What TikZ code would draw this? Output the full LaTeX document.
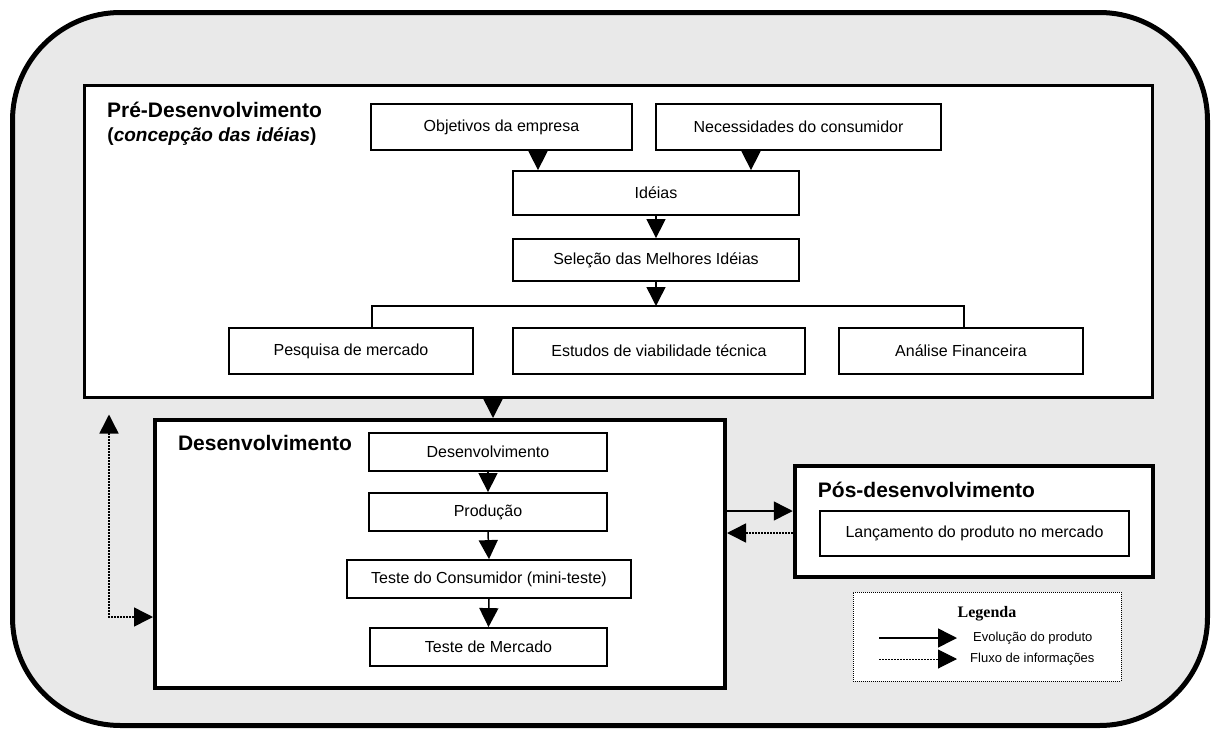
\documentclass[tikz,border=0pt]{standalone}
\usepackage{fontspec}
\setmainfont{Liberation Sans}
\newfontfamily\timesf{Liberation Serif}
\usetikzlibrary{arrows.meta,calc}
\definecolor{bggray}{RGB}{233,233,233}
\begin{document}
\begin{tikzpicture}[x=1pt,y=-1pt,
  ibox/.style={draw, fill=white, line width=1.8pt, inner sep=0pt, font=\fontsize{16}{19}\selectfont},
  cbox/.style={draw, fill=white, inner sep=0pt},
  head/.style={font=\fontsize{21}{25}\selectfont\bfseries, anchor=base, inner sep=0pt},
  arr/.style={line width=1.5pt, -{Triangle[length=19pt,width=19pt]}},
  info/.style={line width=1.5pt, dash pattern=on 1.5pt off 1.5pt, -{Triangle[length=19pt,width=19pt]}},
  conn/.style={line width=1.5pt}
]
\useasboundingbox (0,0) rectangle (1211,731);
% outer rounded frame
\draw[line width=5pt, fill=bggray, rounded corners=108pt] (12.5,12.5) rectangle (1207.5,725.5);

% containers
\node[cbox, line width=3pt, minimum width=1068pt, minimum height=312pt] (pre) at (618,241) {};
\node[cbox, line width=4pt, minimum width=570pt, minimum height=268pt] (dev) at (440,554) {};
\node[cbox, line width=4.5pt, minimum width=358pt, minimum height=111pt] (pos) at (974,521.5) {};
\node[cbox, line width=1pt, dash pattern=on 1pt off 1pt, minimum width=268pt, minimum height=89pt] (leg) at (987,636.5) {};

% headings
\node[head] (preT) at (214.5,117) {Pré-Desenvolvimento};
\node[font=\fontsize{19}{23}\selectfont\bfseries, anchor=base, inner sep=0pt] (preS) at (212,141) {(\textit{concepção das idéias})};
\node[head] (devT) at (265,450) {Desenvolvimento};
\node[head] (posT) at (926.5,497) {Pós-desenvolvimento};

% pre-development boxes
\node[ibox, minimum width=261pt, minimum height=46pt] (obj) at (501.5,127) {Objetivos da empresa};
\node[ibox, minimum width=285pt, minimum height=46pt] (nec) at (798.5,127) {Necessidades do consumidor};
\node[ibox, minimum width=286pt, minimum height=44pt] (ide) at (656,193) {Idéias};
\node[ibox, minimum width=286pt, minimum height=42pt] (sel) at (656,260) {Seleção das Melhores Idéias};
\node[ibox, minimum width=244pt, minimum height=46pt] (pes) at (351,351) {Pesquisa de mercado};
\node[ibox, minimum width=292pt, minimum height=46pt] (est) at (659,351) {Estudos de viabilidade técnica};
\node[ibox, minimum width=244pt, minimum height=46pt] (ana) at (961,351) {Análise Financeira};

% development boxes
\node[ibox, minimum width=238pt, minimum height=38pt] (des) at (488,452) {Desenvolvimento};
\node[ibox, minimum width=238pt, minimum height=38pt] (pro) at (488,512) {Produção};
\node[ibox, minimum width=284pt, minimum height=38pt] (tcon) at (489,579) {Teste do Consumidor (mini-teste)};
\node[ibox, minimum width=237pt, minimum height=38pt] (tmer) at (488.5,647) {Teste de Mercado};

% post-development box
\node[ibox, minimum width=309pt, minimum height=45pt] (lan) at (974.5,533.5) {Lançamento do produto no mercado};

% legend
\node[font=\timesf\fontsize{16}{19}\selectfont\bfseries, anchor=base, inner sep=0pt] (legT) at (987,617) {Legenda};
\node[font=\fontsize{13}{16}\selectfont, anchor=west, inner sep=0pt] (legE) at (973,638) {Evolução do produto};
\node[font=\fontsize{13}{16}\selectfont, anchor=west, inner sep=0pt] (legF) at (970,659) {Fluxo de informações};
\coordinate (l1a) at (879,638);
\coordinate (l1b) at (957,638);
\coordinate (l2a) at (879,659);
\coordinate (l2b) at (957,659);
\draw[arr] (l1a) -- (l1b);
\draw[info, line width=1pt] (l2a) -- (l2b);

% connector helper coordinates
\coordinate (xa) at (538,0);
\coordinate (xb) at (751,0);
\coordinate (bl) at (372,306);
\coordinate (br) at (964,306);
\coordinate (xd) at (493,0);
\coordinate (ya) at (0,511);
\coordinate (yb) at (0,533);
\coordinate (lp) at (109,617);

% connectors in pre-development
\draw[arr] (obj.south -| xa) -- (ide.north -| xa);
\draw[arr] (nec.south -| xb) -- (ide.north -| xb);
\draw[arr] (ide.south) -- (sel.north);
\draw[arr] (sel.south) -- (sel.south |- bl);
\draw[conn] (pes.north -| bl) -- (bl) -- (br) -- (ana.north -| br);

% pre -> development
\draw[arr] (pre.south -| xd) -- (dev.north -| xd);

% development chain
\draw[arr] (des.south) -- (pro.north);
\draw[arr] (pro.south) -- (tcon.north);
\draw[arr] (tcon.south) -- (tmer.north);

% development <-> post-development
\draw[arr] (dev.east |- ya) -- (pos.west |- ya);
\draw[info] (pos.west |- yb) -- (dev.east |- yb);

% information loop on the left
\draw[line width=1.5pt, dash pattern=on 1.5pt off 1.5pt, {Triangle[length=19pt,width=19pt]}-{Triangle[length=19pt,width=19pt]}]
  ([yshift=-16pt]pre.south -| lp) -- (lp) -- (dev.west |- lp);
\end{tikzpicture}
\end{document}
